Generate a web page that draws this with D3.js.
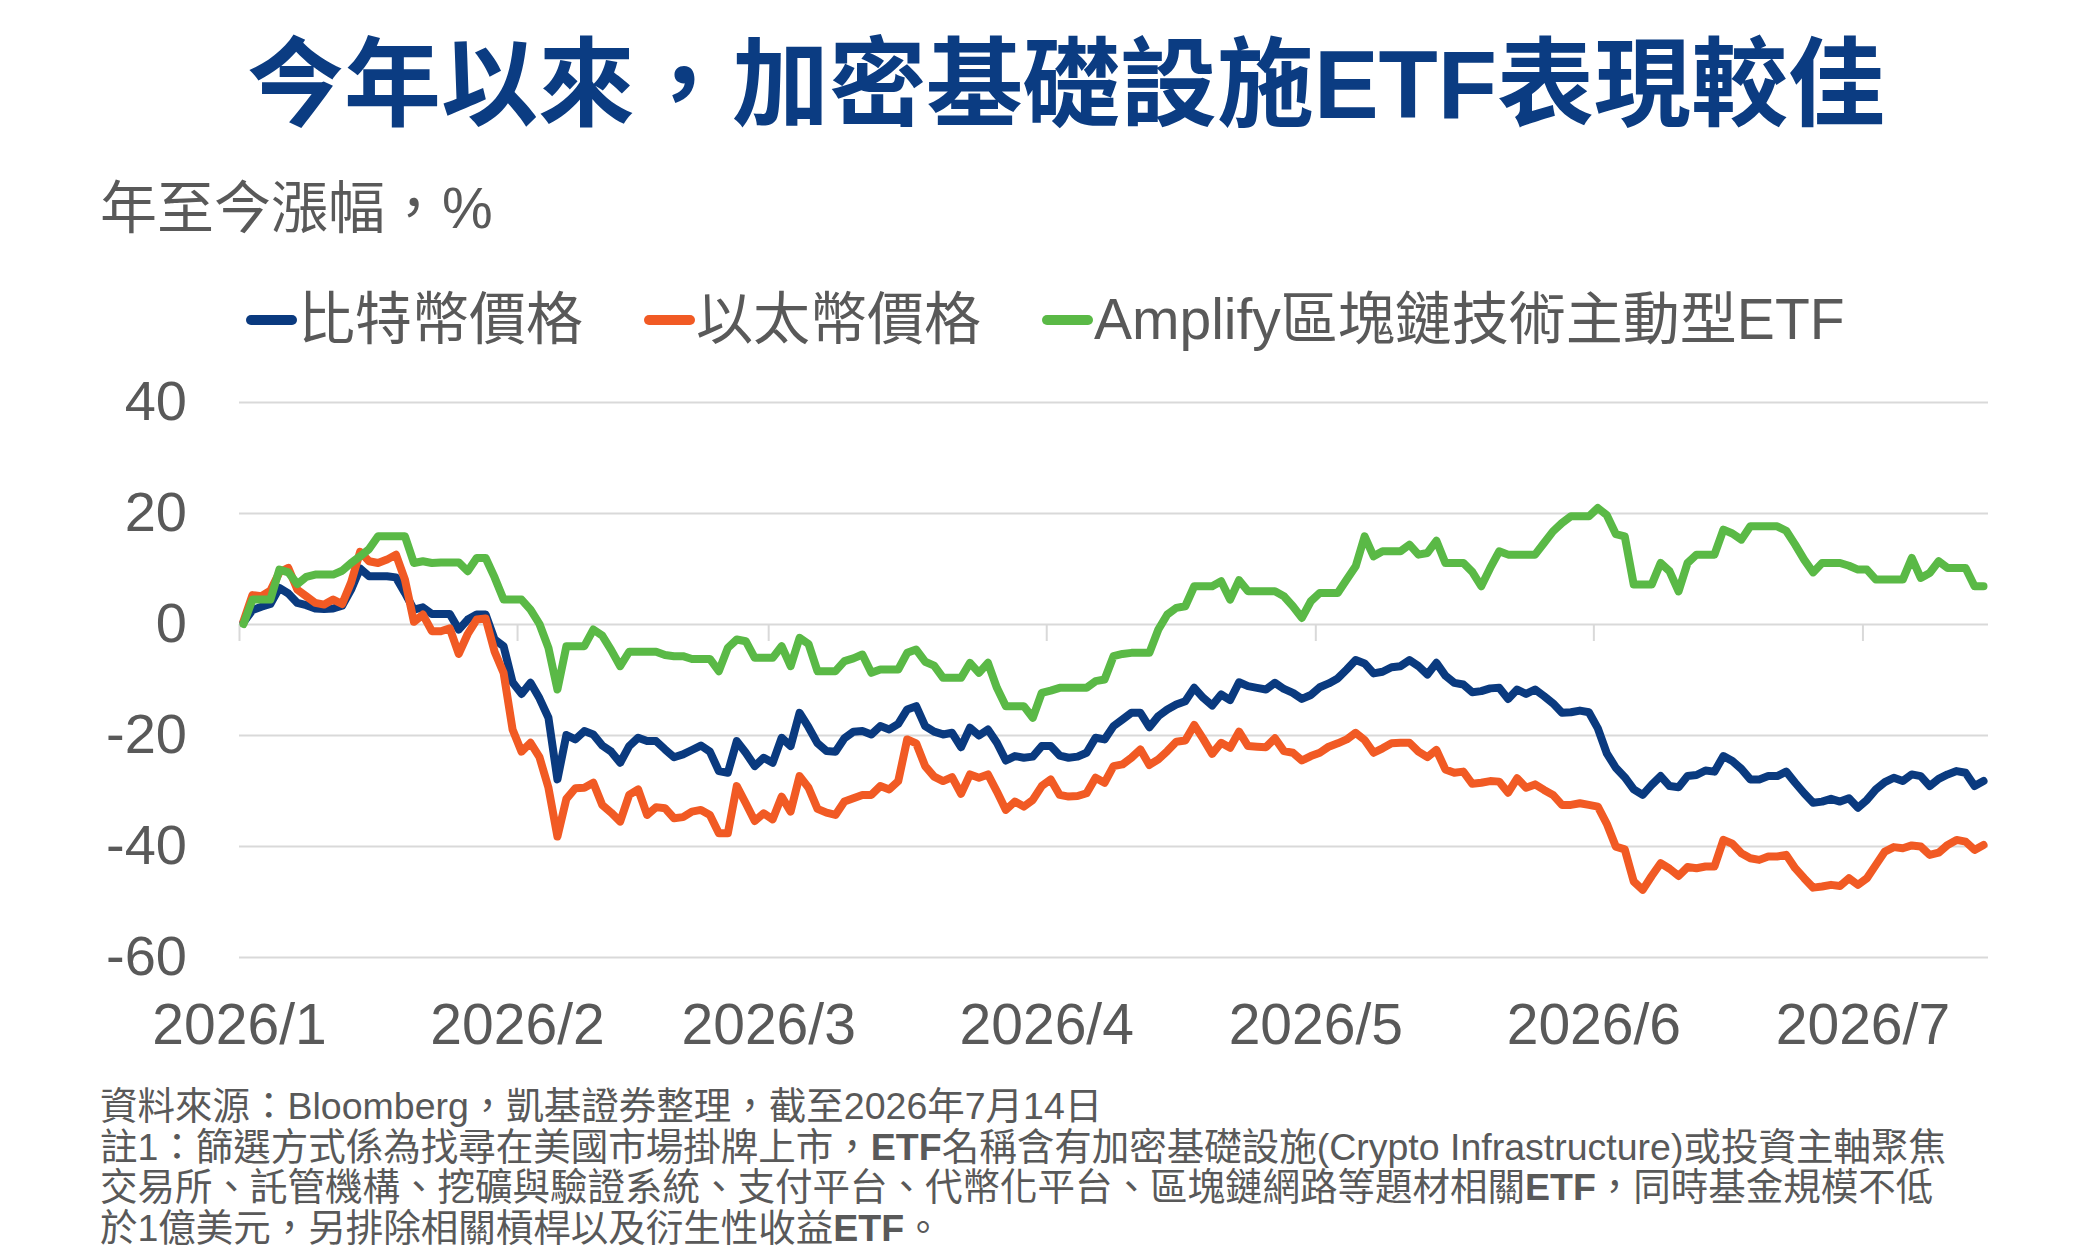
<!DOCTYPE html>
<html>
<head>
<meta charset="utf-8">
<script src="https://cdn.jsdelivr.net/npm/d3@7"></script>
<style>
  body { margin: 0; background: #fff; }
  text { font-family: "Liberation Sans", "Noto Sans CJK TC", sans-serif; }
</style>
</head>
<body>
<div id="chart"></div>
<script>
// chart text
var titleText = '今年以來，加密基礎設施ETF表現較佳';
var yTitle = '年至今漲幅，%';
var seriesNames = ['比特幣價格', '以太幣價格', 'Amplify區塊鏈技術主動型ETF'];
var seriesColors = ['#0a3a7f', '#f15a24', '#5ab946'];
var yTicks = [-60, -40, -20, 0, 20, 40];
var notes = [
  '資料來源：Bloomberg，凱基證券整理，截至2026年7月14日',
  '註1：篩選方式係為找尋在美國市場掛牌上市，ETF名稱含有加密基礎設施(Crypto Infrastructure)或投資主軸聚焦',
  '交易所、託管機構、挖礦與驗證系統、支付平台、代幣化平台、區塊鏈網路等題材相關ETF，同時基金規模不低',
  '於1億美元，另排除相關槓桿以及衍生性收益ETF。'
];

// one value per calendar day, starting 2026/1/1 (YTD %)
var startDay = new Date(Date.UTC(2026, 0, 1));

var btc = [
  0.3, 2.5, 3.1, 3.6, 6.5, 5.5, 3.8, 3.4, 2.8, 2.7,
  2.8, 3.3, 6.2, 10, 8.6, 8.6, 8.6, 8.4, 5.6, 2.6,
  3, 1.8, 1.8, 1.8, -1, 0.8, 1.7, 1.7, -2.8, -4,
  -10.5, -12.6, -10.6, -13.4, -16.9, -28, -20, -20.8, -19.3, -19.9,
  -21.9, -23, -25, -22, -20.5, -21.1, -21.1, -22.6, -24, -23.5,
  -22.7, -21.9, -23, -26.5, -26.8, -21.1, -23.2, -25.6, -24.1, -25,
  -20.5, -22, -16, -18.6, -21.5, -22.9, -23, -20.6, -19.4, -19.3,
  -19.9, -18.4, -19, -18, -15.4, -14.8, -18.4, -19.4, -19.9, -19.6,
  -22.2, -18.7, -20.1, -19, -21.4, -24.6, -23.8, -24.1, -23.9, -22,
  -22, -23.7, -24.1, -23.9, -23.2, -20.5, -20.8, -18.4, -17.2, -16,
  -16, -18.6, -16.6, -15.4, -14.5, -13.9, -11.5, -13.3, -14.7, -12.7,
  -13.7, -10.5, -11.2, -11.5, -11.8, -10.6, -11.7, -12.4, -13.5, -12.8,
  -11.4, -10.7, -9.8, -8.2, -6.5, -7.1, -8.9, -8.6, -7.8, -7.6,
  -6.5, -7.6, -9.1, -7, -9.3, -10.6, -10.9, -12.3, -12.1, -11.6,
  -11.5, -13.5, -11.8, -12.6, -11.8, -13, -14.3, -16, -15.9, -15.6,
  -15.9, -18.8, -23.3, -25.9, -27.6, -29.8, -30.8, -29, -27.4, -29.2,
  -29.4, -27.4, -27.2, -26.4, -26.6, -23.8, -24.7, -26.1, -28, -28,
  -27.4, -27.4, -26.6, -28.6, -30.5, -32.2, -32, -31.5, -32, -31.4,
  -33.1, -31.7, -29.8, -28.5, -27.7, -28.3, -27.1, -27.4, -29.2, -27.9,
  -27.1, -26.5, -26.8, -29.2, -28.3
];

var eth = [
  0.5, 5.2, 5, 6, 9.3, 10.1, 6.2, 5, 3.8, 3.5,
  4.4, 3.6, 7.5, 13, 11.3, 11, 11.6, 12.5, 8, 0.4,
  1.7, -1.3, -1.3, -0.8, -5.4, -1.8, 0.8, 1, -5, -8.8,
  -19, -23, -21.4, -24, -29.5, -38.3, -31.5, -29.6, -29.5, -28.6,
  -32.6, -34, -35.6, -30.8, -29.8, -34.4, -33, -33.2, -35, -34.8,
  -33.8, -33.5, -34.4, -37.7, -37.7, -29.2, -32.3, -35.5, -34.1, -35.2,
  -31.1, -33.8, -27.4, -29.5, -33.3, -34, -34.4, -32, -31.4, -30.8,
  -30.8, -29.2, -29.8, -28.3, -20.8, -21.5, -25.6, -27.5, -28.3, -27.6,
  -30.6, -27.1, -27.7, -27.1, -30.2, -33.5, -32, -32.9, -31.7, -29.2,
  -28, -30.8, -31.1, -31, -30.5, -27.7, -28.6, -25.6, -25.3, -24.1,
  -22.6, -25.4, -24.4, -22.9, -21.2, -21, -18.2, -20.7, -23.4, -21.4,
  -22.3, -19.4, -22, -22.1, -22.2, -20.6, -22.9, -23.2, -24.6, -23.8,
  -23.2, -22.1, -21.5, -20.8, -19.6, -20.9, -23.2, -22.4, -21.5, -21.4,
  -21.4, -23, -24, -22.7, -26.2, -26.8, -26.6, -28.8, -28.6, -28.3,
  -28.4, -30.4, -27.8, -29.5, -28.9, -29.9, -30.8, -32.6, -32.6, -32.3,
  -32.6, -32.9, -36, -40.1, -40.6, -46.4, -47.9, -45.4, -43.1, -44.1,
  -45.4, -43.8, -44, -43.7, -43.7, -38.9, -39.6, -41.3, -42.2, -42.5,
  -41.9, -41.9, -41.6, -44, -45.8, -47.5, -47.3, -47, -47.2, -45.8,
  -47, -45.8, -43.4, -41, -40.2, -40.4, -39.9, -40.1, -41.6, -41.2,
  -39.8, -38.9, -39.2, -40.7, -39.8
];

var etf = [
  0, 4.4, 4.4, 4.4, 9.8, 9.3, 7.2, 8.5, 8.9, 8.9,
  8.9, 9.6, 11, 12.2, 13.5, 15.8, 15.8, 15.8, 15.8, 11,
  11.3, 11, 11.1, 11.1, 11.1, 9.5, 11.9, 11.9, 8.4, 4.4,
  4.4, 4.4, 2.6, 0, -4.3, -11.8, -4, -4, -4, -1,
  -2.1, -4.7, -7.6, -5, -5, -5, -5, -5.6, -5.8, -5.8,
  -6.3, -6.3, -6.3, -8.5, -4.3, -2.8, -3.1, -6.1, -6.1, -6.1,
  -4, -7.6, -2.5, -3.6, -8.5, -8.5, -8.5, -6.7, -6.2, -5.5,
  -8.8, -8.2, -8.2, -8.2, -5.2, -4.6, -6.8, -7.5, -9.7, -9.7,
  -9.7, -7, -8.8, -7, -11.5, -14.8, -14.8, -14.8, -16.9, -12.4,
  -12, -11.5, -11.5, -11.5, -11.5, -10.3, -10, -5.8, -5.4, -5.2,
  -5.2, -5.2, -1, 1.7, 2.9, 3.2, 6.8, 6.8, 6.8, 7.7,
  4.4, 7.9, 5.9, 5.9, 5.9, 5.9, 5, 3.2, 1.1, 4.1,
  5.6, 5.6, 5.6, 8, 10.4, 15.8, 12.2, 13.1, 13.1, 13.1,
  14.3, 12.5, 12.8, 15, 11, 11, 11, 9.4, 6.8, 10.1,
  13.1, 12.5, 12.5, 12.5, 12.5, 14.6, 16.7, 18.2, 19.4, 19.4,
  19.4, 20.9, 19.6, 16.2, 15.8, 7.1, 7.1, 7.1, 11, 9.5,
  5.9, 11, 12.5, 12.5, 12.5, 17, 16.3, 15.2, 17.6, 17.6,
  17.6, 17.6, 16.8, 14.3, 11.6, 9.3, 11, 11, 11, 10.5,
  9.8, 9.8, 8, 8, 8, 8, 11.9, 8.3, 9.2, 11.3,
  10.1, 10.1, 10.1, 6.8, 6.8
];

var W = 2080, H = 1259;
var plot = { left: 239, right: 1988, top: 402, bottom: 957 };
var gray = '#595959', gridColor = '#d9d9d9';

var svg = d3.select('#chart').append('svg')
  .attr('width', W).attr('height', H)
  .style('display', 'block');

var endDay = d3.utcDay.offset(startDay, btc.length);
var days = d3.utcDay.range(startDay, endDay);

var x = d3.scaleUtc().domain([startDay, endDay]).range([plot.left, plot.right]);
var y = d3.scaleLinear().domain([-60, 40]).range([plot.bottom, plot.top]);

// title + y title
svg.append('text')
  .attr('x', 1066).attr('y', 118)
  .attr('text-anchor', 'middle')
  .attr('font-size', 97).attr('font-weight', 700)
  .attr('fill', '#0b3c82')
  .text(titleText);

svg.append('text')
  .attr('x', 100).attr('y', 228)
  .attr('font-size', 57).attr('fill', gray)
  .text(yTitle);

// legend
var lx = 247;
seriesNames.forEach(function(name, i) {
  svg.append('line')
    .attr('x1', lx + 4).attr('x2', lx + 45)
    .attr('y1', 320).attr('y2', 320)
    .attr('stroke', seriesColors[i]).attr('stroke-width', 10)
    .attr('stroke-linecap', 'round');
  var t = svg.append('text')
    .attr('x', lx + 51).attr('y', 339)
    .attr('font-size', 57).attr('fill', gray)
    .text(name);
  lx = lx + 51 + t.node().getComputedTextLength() + 62;
});

// y axis with gridlines
var yAxis = svg.append('g')
  .attr('transform', 'translate(' + plot.left + ',0)')
  .call(d3.axisLeft(y).tickValues(yTicks)
    .tickSize(-(plot.right - plot.left)).tickPadding(52)
    .tickFormat(function(d) { return String(d); }));
yAxis.select('.domain').remove();
yAxis.selectAll('line').attr('stroke', gridColor).attr('stroke-width', 2);
yAxis.selectAll('text')
  .attr('font-size', 56).attr('fill', gray)
  .style('font-family', '"Liberation Sans", sans-serif');

// month tick marks on the zero line
var months = d3.utcMonth.range(startDay, endDay);
var xTicks = svg.append('g')
  .attr('transform', 'translate(0,' + y(0) + ')')
  .call(d3.axisBottom(x).tickValues(months).tickSize(17).tickFormat(''));
xTicks.select('.domain').remove();
xTicks.selectAll('line').attr('stroke', gridColor).attr('stroke-width', 2);

// month labels at the bottom
var xLabels = svg.append('g')
  .attr('transform', 'translate(0,1004)')
  .call(d3.axisBottom(x).tickValues(months).tickSize(0).tickPadding(0)
    .tickFormat(d3.utcFormat('%Y/%-m')));
xLabels.select('.domain').remove();
xLabels.selectAll('text')
  .attr('font-size', 57).attr('fill', gray)
  .style('font-family', '"Liberation Sans", sans-serif');

// lines
var line = d3.line()
  .x(function(d) { return x(d3.utcHour.offset(d.date, 12)); })
  .y(function(d) { return y(d.value); });

[btc, eth, etf].forEach(function(vals, i) {
  var pts = vals.map(function(v, j) { return { date: days[j], value: v }; });
  svg.append('path')
    .datum(pts)
    .attr('d', line)
    .attr('fill', 'none')
    .attr('stroke', seriesColors[i])
    .attr('stroke-width', 8)
    .attr('stroke-linejoin', 'round')
    .attr('stroke-linecap', 'round');
});

// footnotes, ETF shown in bold
var noteY = [1119, 1160, 1200, 1241];
notes.forEach(function(s, i) {
  var t = svg.append('text')
    .attr('x', 100).attr('y', noteY[i])
    .attr('font-size', 37.5).attr('fill', gray);
  var parts = s.split('ETF');
  parts.forEach(function(p, k) {
    if (k > 0) t.append('tspan').attr('font-weight', 600).text('ETF');
    t.append('tspan').text(p);
  });
});
</script>
</body>
</html>
